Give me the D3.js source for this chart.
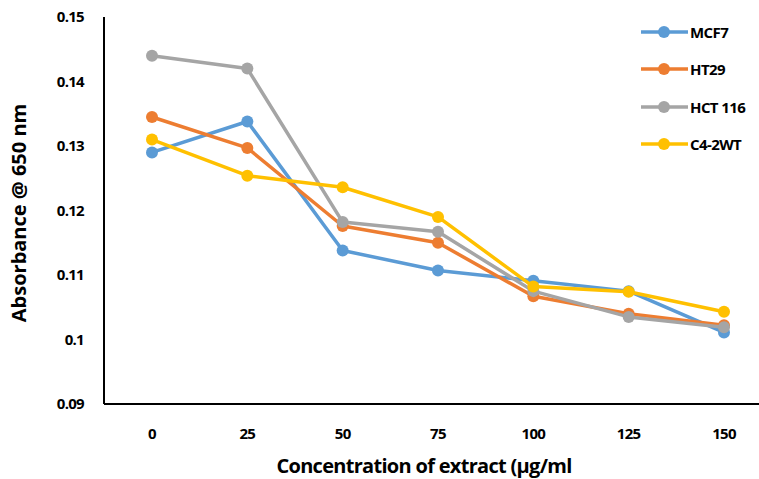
<!DOCTYPE html>
<html><head><meta charset="utf-8">
<script src="https://cdn.jsdelivr.net/npm/d3@7"></script>
<style>body{margin:0;background:#fff}</style></head>
<body><svg id="chart" width="759" height="479"></svg>
<script>
const concentrations = [0, 25, 50, 75, 100, 125, 150];
const yTicks = [0.09, 0.1, 0.11, 0.12, 0.13, 0.14, 0.15];
const seriesNames = ["MCF7", "HT29", "HCT 116", "C4-2WT"];
const seriesColors = ["#5B9BD5", "#ED7D31", "#A5A5A5", "#FFC000"];
const mcf7 = [0.1290, 0.1338, 0.1138, 0.1107, 0.1091, 0.1075, 0.1011];
const ht29 = [0.1345, 0.1297, 0.1176, 0.1150, 0.1067, 0.1040, 0.1022];
const hct116 = [0.1440, 0.1420, 0.1182, 0.1167, 0.1075, 0.1035, 0.1019];
const c42wt = [0.1310, 0.1254, 0.1236, 0.1190, 0.1082, 0.1074, 0.1043];
const allSeries = [mcf7, ht29, hct116, c42wt];

const svg = d3.select("#chart");
const font = "'Open Sans', sans-serif";

const xScale = d3.scalePoint().domain(concentrations).range([152, 724]);
const yScale = d3.scaleLinear().domain([0.09, 0.15]).range([404, 17]);

// axes lines
svg.append("line").attr("x1", 104).attr("x2", 104).attr("y1", 17).attr("y2", 404)
  .attr("stroke", "#000").attr("stroke-width", 2);
svg.append("line").attr("x1", 104).attr("x2", 759).attr("y1", 404).attr("y2", 404)
  .attr("stroke", "#000").attr("stroke-width", 2);

svg.append("g").selectAll("text").data(yTicks).join("text")
  .attr("x", 84).attr("y", d => yScale(d) + 5).attr("text-anchor", "end")
  .attr("font-family", font).attr("font-weight", "bold").attr("font-size", 15)
  .attr("letter-spacing", -0.7)
  .text(d => d3.format("")(+d.toFixed(2)));

svg.append("g").selectAll("text").data(concentrations).join("text")
  .attr("x", d => xScale(d)).attr("y", 439).attr("text-anchor", "middle")
  .attr("font-family", font).attr("font-weight", "bold").attr("font-size", 15)
  .attr("letter-spacing", -0.7)
  .text(d => d);

svg.append("text").attr("x", 424).attr("y", 473).attr("text-anchor", "middle")
  .attr("font-family", font).attr("font-weight", "bold").attr("font-size", 20)
  .attr("letter-spacing", -0.7)
  .text("Concentration of extract (µg/ml");

svg.append("text").attr("transform", "translate(26,213) rotate(-90)").attr("text-anchor", "middle")
  .attr("font-family", font).attr("font-weight", "bold").attr("font-size", 20)
  .text("Absorbance @ 650 nm");

const line = d3.line().x((d, i) => xScale(concentrations[i])).y(d => yScale(d));

allSeries.forEach((s, k) => {
  const g = svg.append("g");
  g.append("path").datum(s).attr("d", line).attr("fill", "none")
    .attr("stroke", seriesColors[k]).attr("stroke-width", 3.5).attr("stroke-linejoin", "round");
  g.selectAll("circle").data(s).join("circle")
    .attr("cx", (d, i) => xScale(concentrations[i])).attr("cy", d => yScale(d))
    .attr("r", 6).attr("fill", seriesColors[k]);
});

// legend
const legendY = [32, 69, 107, 144];
seriesNames.forEach((name, k) => {
  const y = legendY[k];
  svg.append("line").attr("x1", 641).attr("x2", 688).attr("y1", y).attr("y2", y)
    .attr("stroke", seriesColors[k]).attr("stroke-width", 3.5);
  svg.append("circle").attr("cx", 664).attr("cy", y).attr("r", 6).attr("fill", seriesColors[k]);
  svg.append("text").attr("x", 690).attr("y", y + 6)
    .attr("font-family", font).attr("font-weight", "bold").attr("font-size", 15)
    .attr("letter-spacing", -0.6).text(name);
});
</script></body></html>
